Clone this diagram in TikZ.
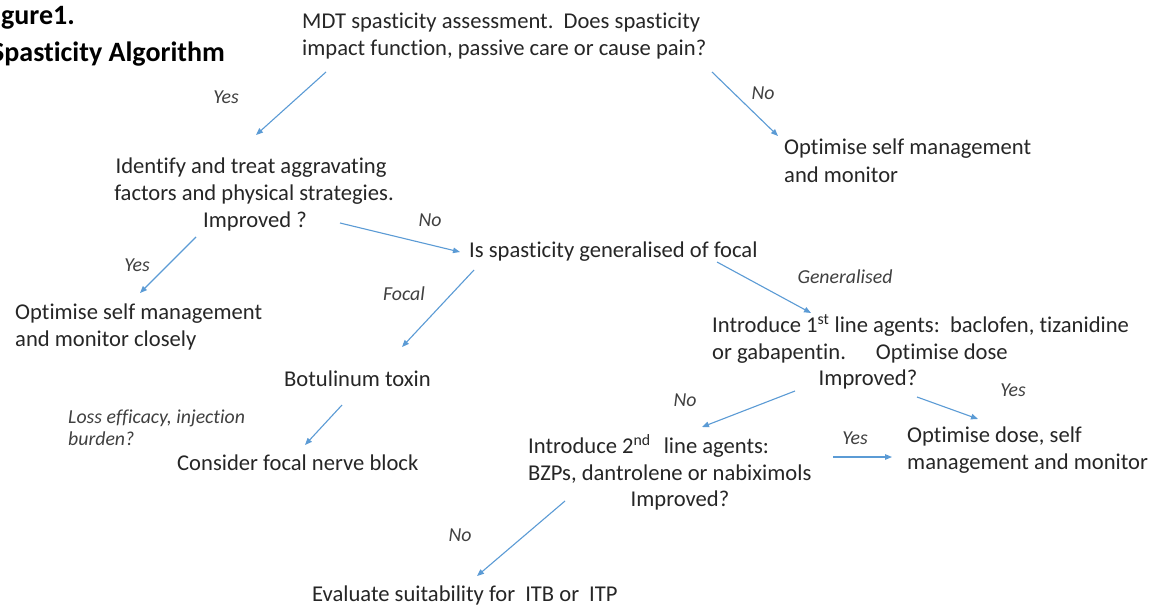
\documentclass[tikz,border=0pt]{standalone}
\usepackage{fontspec}
\setmainfont[Ligatures=NoCommon]{Carlito}
\usetikzlibrary{arrows.meta}
\definecolor{txt}{HTML}{262626}
\definecolor{lbl}{HTML}{404040}
\definecolor{arr}{HTML}{5B9BD5}
\tikzset{
  body/.style={inner sep=0pt, text=txt, font=\fontsize{22.6}{27}\selectfont},
  lab/.style={inner sep=0pt, text=lbl, font=\fontsize{19.8}{22}\selectfont\itshape},
  ttl/.style={inner sep=0pt, text=black, font=\fontsize{28}{32}\selectfont\bfseries},
  flow/.style={draw=arr, line width=1.1pt, -{Triangle[length=7pt,width=5.5pt]}},
}
\begin{document}
\begin{tikzpicture}[x=1pt,y=-1pt]
\useasboundingbox (0,0) rectangle (1155,610);
\fill[white] (0,0) rectangle (1155,610);
\clip (0,0) rectangle (1155,610);
% title
\node[ttl, anchor=base east] (t1) at (75,25) {Figure1.};
\node[ttl, anchor=base east] (t2) at (225,62) {Spasticity Algorithm};
% text lines
\node[body, anchor=base west] (mdt1) at (302,29) {MDT spasticity assessment.\ \ Does spasticity};
\node[body, anchor=base west] (mdt2) at (302,56) {impact function, passive care or cause pain?};
\node[body, anchor=base west] (osm1) at (784,154) {Optimise self management};
\node[body, anchor=base west] (osm2) at (784,182) {and monitor};
\node[body, anchor=base] (id1) at (251,173) {Identify and treat aggravating};
\node[body, anchor=base] (id2) at (254,200) {factors and physical strategies.};
\node[body, anchor=base] (id3) at (255,227) {Improved ?};
\node[body, anchor=base west] (gen) at (469,257) {Is spasticity generalised of focal};
\node[body, anchor=base west] (osc1) at (15,319) {Optimise self management};
\node[body, anchor=base west] (osc2) at (15,346) {and monitor closely};
\node[body, anchor=base west] (fl1) at (712,332) {Introduce 1\textsuperscript{st} line agents:\ \ baclofen, tizanidine};
\node[body, anchor=base west] (fl2) at (712,359) {or gabapentin.\hspace{30pt}Optimise dose};
\node[body, anchor=base] (fl3) at (868,385) {Improved?};
\node[body, anchor=base west] (bot) at (284,386) {Botulinum toxin};
\node[body, anchor=base west] (cfn) at (177,470) {Consider focal nerve block};
\node[body, anchor=base west] (sl1) at (528,453) {Introduce 2\textsuperscript{nd}\hspace{13pt}line agents:};
\node[body, anchor=base west] (sl2) at (528,480) {BZPs, dantrolene or nabiximols};
\node[body, anchor=base] (sl3) at (680,506) {Improved?};
\node[body, anchor=base west] (od1) at (907,442) {Optimise dose, self};
\node[body, anchor=base west] (od2) at (907,469) {management and monitor};
\node[body, anchor=base west] (ev) at (312,601) {Evaluate suitability for\hspace{10pt}ITB or\hspace{10pt}ITP};
% labels
\node[lab] (lyes1) at (226,97) {Yes};
\node[lab] (lno1) at (763,93) {No};
\node[lab] (lno2) at (430,220) {No};
\node[lab] (lyes2) at (137,265) {Yes};
\node[lab] (lfoc) at (404,294) {Focal};
\node[lab] (lgen) at (845,277) {Generalised};
\node[lab, anchor=base west] (lloss1) at (68,423) {Loss efficacy, injection};
\node[lab, anchor=base west] (lloss2) at (68,445) {burden?};
\node[lab] (lno3) at (685,400) {No};
\node[lab] (lyes3) at (1013,390) {Yes};
\node[lab] (lyes4) at (855,438) {Yes};
\node[lab] (lno4) at (460,535) {No};
% connector end points
\coordinate (a1s) at (326,72);  \coordinate (a1e) at (256,135);
\coordinate (a2s) at (712,72);  \coordinate (a2e) at (778,136);
\coordinate (a3s) at (340,223); \coordinate (a3e) at (460,252);
\coordinate (a4s) at (196,237); \coordinate (a4e) at (140,293);
\coordinate (a5s) at (474,270); \coordinate (a5e) at (402,347);
\coordinate (a6s) at (717,262); \coordinate (a6e) at (811,313);
\coordinate (a7s) at (342,405); \coordinate (a7e) at (305,445);
\coordinate (a8s) at (795,391); \coordinate (a8e) at (702,427);
\coordinate (a9s) at (917,397); \coordinate (a9e) at (978,419);
\coordinate (a10s) at (833,457); \coordinate (a10e) at (892,457);
\coordinate (a11s) at (565,501); \coordinate (a11e) at (477,576);
\draw[flow] (a1s) -- (a1e);
\draw[flow] (a2s) -- (a2e);
\draw[flow] (a3s) -- (a3e);
\draw[flow] (a4s) -- (a4e);
\draw[flow] (a5s) -- (a5e);
\draw[flow] (a6s) -- (a6e);
\draw[flow] (a7s) -- (a7e);
\draw[flow] (a8s) -- (a8e);
\draw[flow] (a9s) -- (a9e);
\draw[flow] (a10s) -- (a10e);
\draw[flow] (a11s) -- (a11e);
\end{tikzpicture}
\end{document}
